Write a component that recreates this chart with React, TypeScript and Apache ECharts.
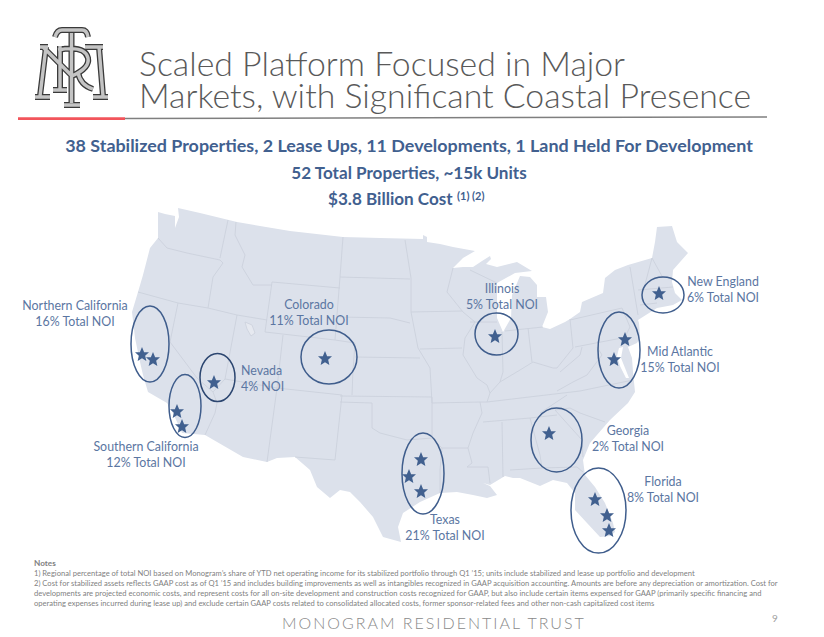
import React, { useEffect, useRef } from "react";
import * as echarts from "echarts";

const titleLines = ["Scaled Platform Focused in Major", "Markets, with Significant Coastal Presence"];
const headingLines = [
  "38 Stabilized Properties, 2 Lease Ups, 11 Developments, 1 Land Held For Development",
  "52 Total Properties, ~15k Units",
  "$3.8 Billion Cost",
];
const headingNote = "(1) (2)";
const noteLines = [
  "1) Regional percentage of total NOI based on Monogram\u2019s share of YTD net operating income for its stabilized portfolio through Q1 \u201915; units include stabilized and lease up portfolio and development",
  "2) Cost for stabilized assets reflects GAAP cost as of Q1 \u201915 and includes building improvements as well as intangibles recognized in GAAP acquisition accounting. Amounts are before any depreciation or amortization. Cost for",
  "developments are projected economic costs, and represent costs for all on-site development and construction costs recognized for GAAP, but also include certain items expensed for GAAP (primarily specific financing and",
  "operating expenses incurred during lease up) and exclude certain GAAP costs related to consolidated allocated costs, former sponsor-related fees and other non-cash capitalized cost items",
];
const footerText = "MONOGRAM RESIDENTIAL TRUST";

const regionNames = ["Northern California", "Southern California", "Nevada", "Colorado", "Illinois", "Texas", "Georgia", "Florida", "Mid Atlantic", "New England"];
const regionShares = ["16% Total NOI", "12% Total NOI", "4% NOI", "11% Total NOI", "5% Total NOI", "21% Total NOI", "2% Total NOI", "8% Total NOI", "15% Total NOI", "6% Total NOI"];

// Map plane: x, y on the hidden axes
const regionLabelAt = [[75, 305], [146, 446], [241, 370], [309, 304], [502, 288], [445, 519], [628, 430], [663, 481], [680, 351], [723, 281]];
const regionRings = [
  [150, 344, 19, 38], [185, 406, 16, 31.5], [217.5, 377.5, 17.5, 24], [329, 357, 28, 27], [496.5, 334, 21.5, 21],
  [423, 473.5, 21, 40.5], [556.5, 440, 25.5, 32], [598.5, 510.5, 27.5, 42.5], [619, 350, 21, 38], [663, 295, 21, 18],
];
const propertyStars = [
  [142, 354], [153, 359], [177, 411], [182, 426], [214, 382], [325, 358], [495, 336], [421, 459], [409, 476], [421, 491],
  [549, 433], [595, 499], [607, 515], [609, 530], [625, 339], [614, 359], [659, 293],
];
const landOutline = [
  [158,212],[165,214],[175,216],[175,228],[179,217],[178,208],[200,213],[237,222],[290,231],[343,237],[380,238],[423,239],[423,235],[427,237],[427,242],[440,244],[453,247],[475,251],[463,258],[453,268],[463,267],[473,267],[482,261],[490,256],[491,259],[486,264],[497,267],[517,262],[532,271],[515,273],[497,283],[497,318],[503,332],[511,318],[512,295],[520,276],[530,277],[537,285],[537,297],[546,297],[548,312],[542,327],[550,329],[565,322],[570,319],[580,312],[582,302],[603,293],[605,278],[615,270],[628,265],[652,258],[655,242],[657,227],[672,226],[677,242],[688,253],[673,270],[672,282],[675,293],[682,300],[673,305],[657,308],[638,320],[639,323],[640,338],[637,343],[628,347],[632,358],[633,372],[635,392],[628,403],[610,420],[590,443],[583,460],[585,475],[595,487],[605,503],[613,523],[615,532],[610,536],[600,537],[587,523],[575,510],[575,493],[567,483],[553,480],[540,486],[520,478],[513,478],[505,476],[490,485],[483,483],[490,486],[497,495],[487,498],[473,495],[457,492],[440,493],[420,502],[403,513],[398,527],[401,542],[383,537],[373,517],[360,502],[350,492],[340,490],[330,498],[317,487],[310,470],[295,457],[277,458],[267,462],[243,457],[205,435],[182,433],[173,413],[167,403],[148,392],[143,375],[140,362],[135,338],[132,312],[138,292],[143,275],[150,248],[158,238],
];
const chesapeakeBay = [[619,348],[623,347],[621,358],[625,368],[629,378],[626,378],[620,366],[617,356]];
const stateBorders = [
  [[158,238],[167,248],[187,253],[220,260]],
  [[220,260],[223,263],[213,277],[208,308]],
  [[228,220],[220,258]],
  [[236,222],[235,235],[245,255],[242,267],[253,285],[272,285]],
  [[272,282],[340,288]],
  [[343,237],[340,277],[335,340]],
  [[272,282],[265,332],[335,340]],
  [[138,292],[178,303],[208,308],[237,315],[267,320]],
  [[178,303],[170,342],[197,378],[213,392],[217,403],[215,413],[205,435]],
  [[237,315],[225,379],[213,392]],
  [[225,379],[277,388],[342,395]],
  [[283,335],[277,388],[267,462]],
  [[342,395],[335,460],[295,457]],
  [[335,340],[355,343],[353,370],[352,395]],
  [[355,357],[420,358]],
  [[340,396],[432,397]],
  [[340,402],[372,403],[372,428],[380,433],[407,440],[432,438],[432,397]],
  [[430,368],[431,385],[432,403],[480,402]],
  [[442,448],[440,470],[440,493]],
  [[432,438],[442,448],[468,448]],
  [[490,393],[487,402],[480,402],[482,413],[473,433],[468,448],[472,463],[467,467],[488,467],[490,483]],
  [[502,422],[503,477]],
  [[530,418],[540,455],[542,468]],
  [[510,470],[542,468],[577,467],[583,472]],
  [[483,422],[530,418],[557,415]],
  [[487,402],[580,391],[633,380]],
  [[502,332],[503,372],[500,382],[490,393]],
  [[463,312],[475,322],[465,338],[463,355],[477,378],[487,385],[490,393]],
  [[470,322],[497,322]],
  [[528,328],[532,362]],
  [[505,331],[543,327]],
  [[570,319],[573,348],[557,368],[553,368],[533,362],[520,370],[500,382]],
  [[411,312],[462,311]],
  [[405,240],[411,278],[411,312],[418,348],[430,368]],
  [[453,268],[450,280],[447,292],[463,312]],
  [[340,277],[410,279]],
  [[340,317],[390,318],[410,323]],
  [[420,349],[462,348]],
  [[470,270],[497,283]],
  [[575,347],[627,337]],
  [[570,320],[622,308],[630,327],[625,337]],
  [[630,267],[638,315]],
  [[652,258],[643,292]],
  [[638,290],[673,287]],
  [[640,305],[657,303]],
  [[652,258],[663,278]],
  [[560,372],[580,355],[582,347]],
  [[597,347],[602,355],[587,375],[573,382],[557,391]],
  [[555,410],[570,408],[580,413],[605,422]],
  [[555,410],[582,440],[583,457]],
  [[540,413],[567,395]],
];
const saltLake = [[245,322],[252,325],[255,333],[251,336],[247,329]];

const LOGO = "M55,37 Q57,30 62,30 L82,30 Q87,30 88,37 M71.5,33 L71.5,103 M64,105 L80,105 M46,47 L40,96 M35,97 L50,97 M40,47 L48,47 M43,47 L72,76 M60,46 L60,89 M53,90 L67,90 M58,50 Q85,45 88,58 Q90,68 72,76 M78,72 Q80,85 93,89 M99,47 L103,96 M93,97 L108,97 M85,47 L103,47";
const STAR = "path://M0,-10 L2.9,-3.1 L9.5,-3.1 L4.3,1.4 L5.9,8.1 L0,4.5 L-5.9,8.1 L-4.3,1.4 L-9.5,-3.1 L-2.9,-3.1 Z";

const BLUE = "#41608f";
const LABEL = "#5b76a2";

export default function App() {
  const ref = useRef<HTMLDivElement>(null);
  useEffect(() => {
    if (!ref.current) return;
    echarts.graphic.registerShape("logo", echarts.graphic.extendPath(LOGO, {}));
    const chart = echarts.init(ref.current, undefined, { renderer: "svg" });
    const text = (x: number, y: number, t: string, font: string, fill: string, align = "left", extra: any = {}, styleExtra: any = {}) => ({
      type: "text", x, y, silent: true, z: 10, ...extra,
      style: { text: t, font, fill, align, verticalAlign: "middle", ...styleExtra },
    });
    const elements: any[] = [
      { type: "logo", x: 0, y: 0, style: { fill: "none", stroke: "#3a3a3a", lineWidth: 6 } },
      { type: "logo", x: 0, y: 0, style: { fill: "none", stroke: "#c4c4c4", lineWidth: 3.4 } },
      { type: "line", shape: { x1: 125, y1: 118.5, x2: 767, y2: 117 }, style: { stroke: "#7f7f7f", lineWidth: 1.5 } },
      { type: "rect", shape: { x: 18, y: 117.3, width: 107, height: 2.8 }, style: { fill: "#f2545b" } },
      text(139, 79, titleLines.join("\n"), "300 33.8px Lato", "#595959", "left", {}, { lineHeight: 32 }),
      text(409, 145, headingLines[0], "700 17.9px Lato", BLUE, "center"),
      text(409, 172, headingLines[1], "700 17.9px Lato", BLUE, "center", { scaleX: 0.955 }),
      text(328, 198, headingLines[2], "700 17.9px Lato", BLUE, "left", { scaleX: 0.955 }),
      text(457, 195, headingNote, "700 11px Lato", BLUE),
      text(34, 563, "Notes", "700 8.2px Lato", "#7f7f7f"),
      ...noteLines.map((n, i) => text(34, 573 + i * 10, n, "8.2px Lato", "#7f7f7f", "left", { scaleX: 0.927 })),
      text(282, 622, footerText, "300 16px Lato", "#8a8a8a"),
      text(772, 618, "9", "10px Lato", "#a0a0a0"),
    ];
    regionNames.forEach((name, i) => {
      const [x, y] = regionLabelAt[i];
      const align = name === "Nevada" ? "left" : "center";
      elements.push(text(x, y, name, "12.4px Lato", LABEL, align), text(x, y + 16, regionShares[i], "12.4px Lato", LABEL, align));
    });
    const fillPoly = (pts: number[][], fill: string) => ({
      type: "custom", silent: true, coordinateSystem: "cartesian2d", data: [0],
      renderItem: (_: any, api: any) => ({
        type: "polygon", shape: { points: pts.map((p) => api.coord(p)) }, style: { fill },
      }),
    });
    chart.setOption({
      animation: false,
      backgroundColor: "#ffffff",
      grid: { left: 0, right: 0, top: 0, bottom: 0 },
      xAxis: { type: "value", min: 0, max: 824, show: false },
      yAxis: { type: "value", min: 0, max: 637, inverse: true, show: false },
      graphic: { z: 10, elements },
      series: [
        fillPoly(landOutline, "#dce1eb"),
        {
          type: "custom", silent: true, coordinateSystem: "cartesian2d", data: stateBorders.map((_, i) => i),
          renderItem: (p: any, api: any) => ({
            type: "polyline", shape: { points: stateBorders[p.dataIndex].map((c) => api.coord(c)) },
            style: { fill: "none", stroke: "#ccd1dc", lineWidth: 0.9 },
          }),
        },
        fillPoly(chesapeakeBay, "#ffffff"),
        {
          type: "custom", silent: true, coordinateSystem: "cartesian2d", data: [0],
          renderItem: (_: any, api: any) => ({
            type: "polygon", shape: { points: saltLake.map((c) => api.coord(c)) },
            style: { fill: "#e6e9f0", stroke: "#ccd1dc", lineWidth: 0.8 },
          }),
        },
        {
          type: "custom", silent: true, coordinateSystem: "cartesian2d", data: regionRings, z: 3,
          renderItem: (p: any, api: any) => {
            const r = regionRings[p.dataIndex];
            const c = api.coord([r[0], r[1]]);
            const dark = regionNames[p.dataIndex] === "Nevada";
            return {
              type: "ellipse", shape: { cx: c[0], cy: c[1], rx: r[2], ry: r[3] },
              style: { fill: "none", stroke: dark ? "#2c4670" : "#3f5d8c", lineWidth: 1.5 },
            };
          },
        },
        {
          type: "scatter", silent: true, data: propertyStars, symbol: STAR, symbolSize: 14, z: 4,
          itemStyle: { color: BLUE, opacity: 1 },
        },
      ],
    });
    ref.current.querySelectorAll("text").forEach((el) => {
      if (el.textContent === footerText) (el as any).style.letterSpacing = "2px";
    });
    return () => chart.dispose();
  }, []);
  return <div ref={ref} style={{ position: "absolute", left: 0, top: 0, width: 824, height: 637 }} />;
}
